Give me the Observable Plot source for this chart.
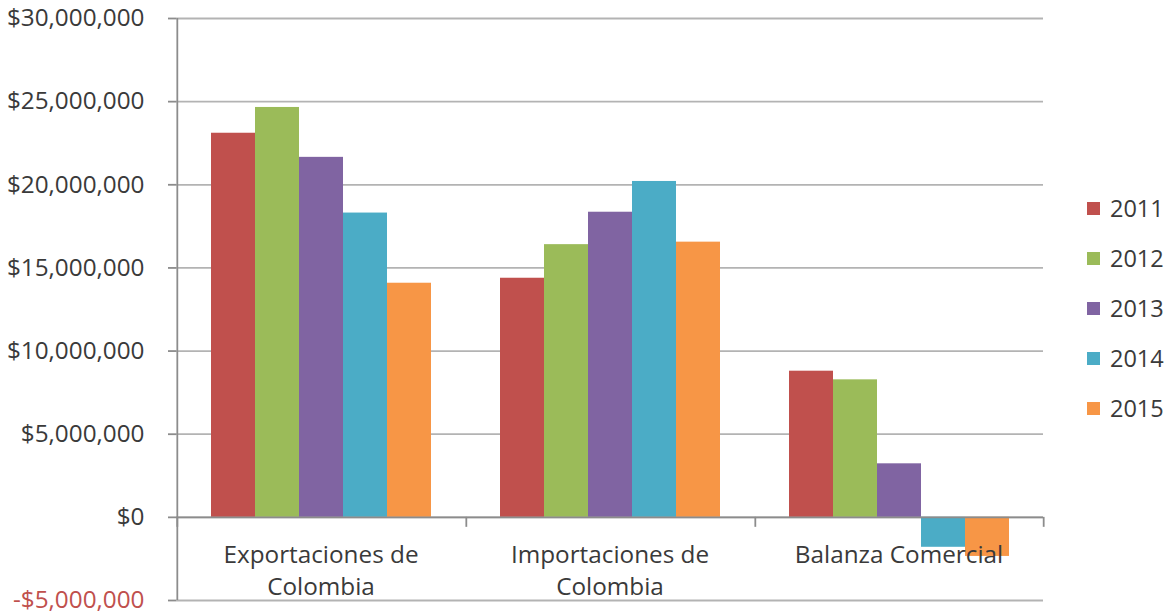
<!DOCTYPE html>
<html><head><meta charset="utf-8">
<script src="https://cdn.jsdelivr.net/npm/d3@7"></script>
<script src="https://cdn.jsdelivr.net/npm/@observablehq/plot@0.6"></script>
<style>
body{margin:0;background:#fff;}
#wrap{position:relative;width:1167px;height:614px;font-family:"Open Sans",sans-serif;}
#legend{position:absolute;left:1087px;top:183px;}
.item{display:flex;align-items:center;height:50px;font-size:23.5px;color:#3a3a3a}
.sw{width:13px;height:13px;margin-right:10px}
</style></head><body><div id="wrap"><div id="chart"></div><div id="legend"></div></div>
<script>
const categories = ["Exportaciones de Colombia","Importaciones de Colombia","Balanza Comercial"];
const categoryLine1 = ["Exportaciones de","Importaciones de","Balanza Comercial"];
const categoryLine2 = ["Colombia","Colombia",""];
const years = ["2011","2012","2013","2014","2015"];
const colors = ["#C0504D","#9BBB59","#8064A2","#4BACC6","#F79646"];
const exportaciones = [23100000, 24650000, 21650000, 18300000, 14080000];
const importaciones = [14380000, 16400000, 18350000, 20200000, 16550000];
const balanza = [8790000, 8270000, 3220000, -1800000, -2350000];
const yTicks = [-5000000, 0, 5000000, 10000000, 15000000, 20000000, 25000000, 30000000];

const series = [exportaciones, importaciones, balanza];
const rows = [];
categories.forEach((c, i) => years.forEach((y, j) => rows.push({category: c, year: y, value: series[i][j]})));
const labels = categories.map((c, i) => ({category: c, l1: categoryLine1[i], l2: categoryLine2[i]}));

const W = 1167, H = 614, mL = 175, mR = 124, mT = 18, mB = 14;
const po = 0.77;
const facetW = (W - mL - mR) / categories.length;
const step = facetW / (years.length + 2 * po);
const edge = step / 2 + po * step; // rules on a band scale sit at the band centre

const fmt = d => (d < 0 ? "-" : "") + "$" + d3.format(",")(Math.abs(d));
const gray = "#b3b3b3";
const axisGray = "#8c8c8c";
const textColor = "#3a3a3a";

const plot = Plot.plot({
  width: W, height: H,
  marginLeft: mL, marginRight: mR, marginTop: mT, marginBottom: mB,
  style: {fontFamily: "Open Sans", fontSize: "22px", color: textColor, background: "transparent", overflow: "visible"},
  fx: {domain: categories, padding: 0, axis: null, label: null},
  x: {domain: years, paddingInner: 0, paddingOuter: po, axis: null, label: null},
  y: {domain: [-5000000, 30000000], axis: null, label: null},
  color: {domain: years, range: colors},
  marks: [
    Plot.ruleY(yTicks, {stroke: gray, strokeWidth: 1.8}),
    Plot.barY(rows, {fx: "category", x: "year", y: "value", fill: "year"}),
    Plot.ruleY([0], {stroke: axisGray, strokeWidth: 1.8}),
    Plot.ruleX(categories.map(c => ({category: c, year: years[0]})), {fx: "category", x: "year", y1: 0, y2: -600000, stroke: axisGray, strokeWidth: 1.8, dx: -edge}),
    Plot.ruleX([{category: categories[2], year: years[4]}], {fx: "category", x: "year", y1: 0, y2: -600000, stroke: axisGray, strokeWidth: 1.8, dx: edge}),
    Plot.ruleX([{category: categories[0], year: years[0]}], {fx: "category", x: "year", y1: -5000000, y2: 30000000, stroke: axisGray, strokeWidth: 1.8, dx: -edge}),
    Plot.axisY({ticks: yTicks, label: null, tickSize: 8, tickPadding: 24, tickFormat: fmt, stroke: axisGray, strokeWidth: 1.8, fill: d => d < 0 ? "#c0504d" : textColor, fontSize: 24.3}),
    Plot.text(labels, {fx: "category", y: 0, text: "l1", dy: 38, fill: textColor, fontSize: 24.3}),
    Plot.text(labels, {fx: "category", y: 0, text: "l2", dy: 70, fill: textColor, fontSize: 24.3})
  ]
});
document.getElementById("chart").appendChild(plot);

const legend = document.getElementById("legend");
years.forEach((y, i) => {
  const it = document.createElement("div");
  it.className = "item";
  it.innerHTML = `<span class="sw" style="background:${colors[i]}"></span><span>${y}</span>`;
  legend.appendChild(it);
});
</script></body></html>
